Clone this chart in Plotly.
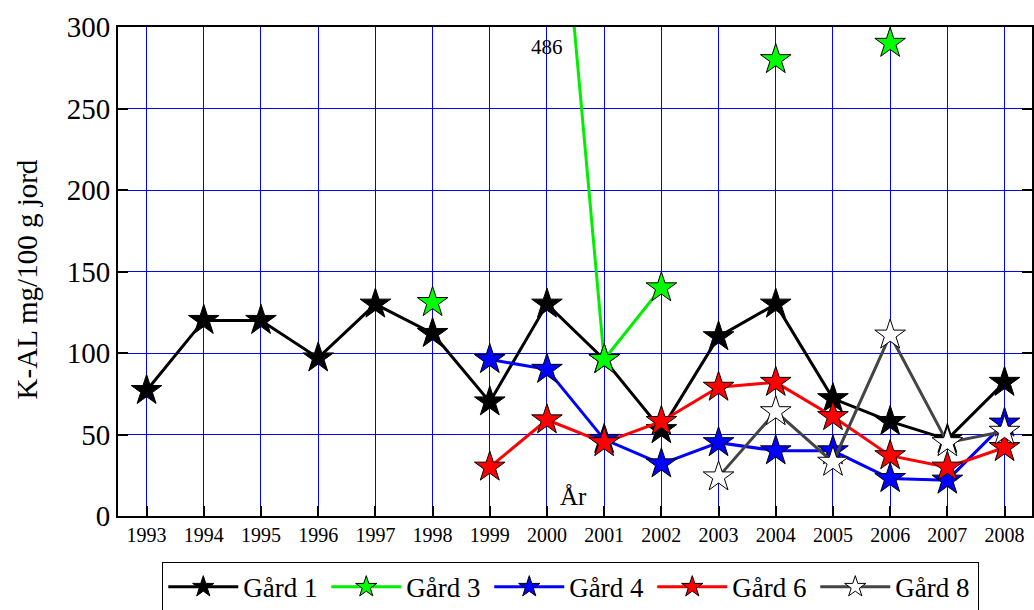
import plotly.graph_objects as go

years = list(range(1993, 2009))
gard1 = [77, 120, 120, 97, 130, 112, 70, 130, 96, 53, 110, 130, 72, 58, 47, 82]
gard3 = [None, None, None, None, None, 131, None, 486, 96, 140, None, 280, None, 290, None, None]
gard4 = [None, None, None, None, None, None, 96, 90, 47, 32, 45, 40, 40, 23, 22, 57]
gard6 = [None, None, None, None, None, None, 30, 59, 45, 58, 79, 82, 61, 37, 30, 42]
gard8 = [None, None, None, None, None, None, None, None, None, None, 24, 64, 33, 111, 45, 52]

series = [
    ("Gård 1", gard1, "#000000", "#000000"),
    ("Gård 3", gard3, "#00ee00", "#00ff00"),
    ("Gård 4", gard4, "#0000ff", "#0000ff"),
    ("Gård 6", gard6, "#ff0000", "#ff0000"),
    ("Gård 8", gard8, "#444444", "#ffffff"),
]

FONT = "Liberation Serif, Times New Roman, serif"

fig = go.Figure()
for name, vals, lc, fc in series:
    fig.add_trace(go.Scatter(
        x=years, y=vals, name=name, mode="lines+markers",
        connectgaps=False,
        line=dict(color=lc, width=3),
        marker=dict(symbol="star", size=23, color=fc,
                    line=dict(color="#000000", width=1)),
    ))

fig.add_annotation(x=2000.0, y=288, text="486", showarrow=False,
                   font=dict(family=FONT, size=21, color="#000000"))
fig.add_annotation(x=2000.47, y=12, text="År", showarrow=False,
                   font=dict(family=FONT, size=25, color="#000000"))
fig.add_annotation(xref="paper", yref="paper", x=-0.1, y=0.483,
                   text="K-AL mg/100 g jord", textangle=-90, showarrow=False,
                   xanchor="center", yanchor="middle",
                   font=dict(family=FONT, size=29, color="#000000"))

fig.update_layout(
    width=1034, height=610,
    margin=dict(l=118, r=0, t=27, b=94),
    paper_bgcolor="white", plot_bgcolor="white",
    font=dict(family=FONT, color="#000000"),
    showlegend=True,
    legend=dict(orientation="h", xref="container", yref="container",
                x=0.552, xanchor="center", y=0.079, yanchor="top",
                bordercolor="#000000", borderwidth=1, bgcolor="white",
                font=dict(family=FONT, size=27, color="#000000"),
                itemwidth=70, entrywidth=78, entrywidthmode="pixels",
                tracegroupgap=0),
    xaxis=dict(range=[1992.5, 2008.48], tickmode="array", tickvals=years,
               ticktext=[str(y) for y in years],
               showgrid=True, gridcolor="#0000ff", gridwidth=1,
               ticks="inside", ticklen=10, tickwidth=2, tickcolor="#000000",
               showline=True, linewidth=2, linecolor="#000000", mirror=True,
               zeroline=False, tickfont=dict(family=FONT, size=20)),
    yaxis=dict(range=[0, 300], tickmode="linear", tick0=0, dtick=50,
               showgrid=True, gridcolor="#0000ff", gridwidth=1,
               ticks="inside", ticklen=10, tickwidth=2, tickcolor="#000000",
               showline=True, linewidth=2, linecolor="#000000", mirror="ticks",
               zeroline=False, tickfont=dict(family=FONT, size=29)),
)

fig.write_html("out.html")
